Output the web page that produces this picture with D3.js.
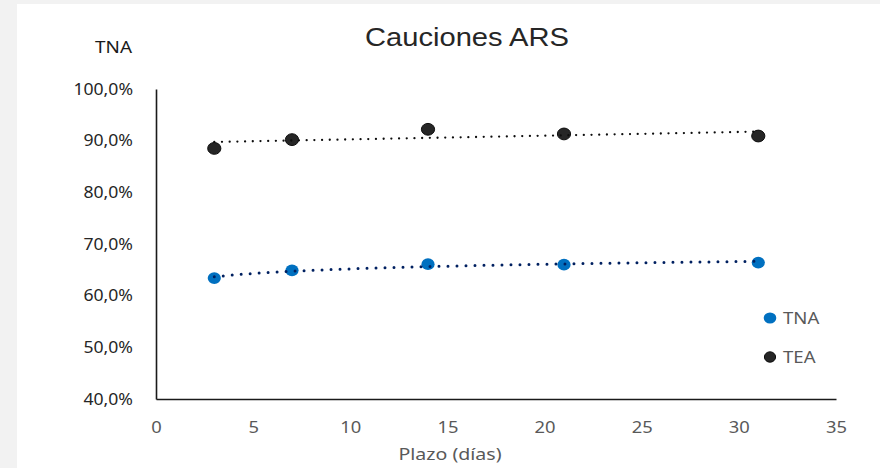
<!DOCTYPE html>
<html>
<head>
<meta charset="utf-8">
<script src="https://cdn.jsdelivr.net/npm/d3@7"></script>
<style>
  html, body { margin: 0; padding: 0; background: #f2f2f2; }
  svg { display: block; }
</style>
</head>
<body>
<div id="chart"></div>
<script>
// Chart data
const plazos = [3, 7, 14, 21, 31];
const tna = [63.4, 64.9, 66.1, 66.0, 66.4];
const tea = [88.5, 90.2, 92.2, 91.3, 90.9];
const seriesNames = ['TNA', 'TEA'];
const xTicks = [0, 5, 10, 15, 20, 25, 30, 35];
const yTicks = [40, 50, 60, 70, 80, 90, 100];

const width = 880;
const height = 468;
const font = "'Noto Sans', 'Open Sans', sans-serif";

// The original text looks a bit wider than normal, so stretch it a little
function stretch(sel, k) {
	sel.each(function () {
		const w = this.getComputedTextLength();
		d3.select(this)
			.attr('textLength', w * k)
			.attr('lengthAdjust', 'spacingAndGlyphs');
	});
}

// Least squares fit, optionally on ln(x) (logarithmic trendline)
function fit(xs, ys, useLog) {
	const tx = xs.map((v) => (useLog ? Math.log(v) : v));
	const mx = d3.mean(tx);
	const my = d3.mean(ys);
	let num = 0;
	let den = 0;
	for (let i = 0; i < tx.length; i += 1) {
		num += (tx[i] - mx) * (ys[i] - my);
		den += (tx[i] - mx) * (tx[i] - mx);
	}
	const b = num / den;
	const a = my - b * mx;
	return (v) => a + b * (useLog ? Math.log(v) : v);
}

const svg = d3.select('#chart')
	.append('svg')
	.attr('width', width)
	.attr('height', height);

// Background: light gray frame, white chart area
svg.append('rect')
	.attr('width', width)
	.attr('height', height)
	.attr('fill', '#f2f2f2');
svg.append('rect')
	.attr('x', 17)
	.attr('y', 4)
	.attr('width', width - 17)
	.attr('height', height - 4)
	.attr('fill', '#ffffff');

const x = d3.scaleLinear().domain([0, 35]).range([156, 836]);
const y = d3.scaleLinear().domain([40, 100]).range([399, 89]);

// Axes
const yAxis = svg.append('g')
	.attr('transform', `translate(${x(0)},0)`)
	.call(d3.axisLeft(y)
		.tickValues(yTicks)
		.tickSize(0)
		.tickSizeOuter(0)
		.tickPadding(23)
		.tickFormat((d) => `${d3.format('.1f')(d).replace('.', ',')}%`));
yAxis.select('.domain').attr('stroke', '#1a1a1a').attr('stroke-width', 1.6);
yAxis.selectAll('text')
	.attr('font-family', font)
	.attr('font-size', 16)
	.attr('fill', '#262626')
	.call(stretch, 1.1);

const xAxis = svg.append('g')
	.attr('transform', `translate(0,${y(40)})`)
	.call(d3.axisBottom(x)
		.tickValues(xTicks)
		.tickSize(0)
		.tickSizeOuter(0)
		.tickPadding(22));
xAxis.select('.domain').attr('stroke', '#1a1a1a').attr('stroke-width', 1.6);
xAxis.selectAll('text')
	.attr('font-family', font)
	.attr('font-size', 17)
	.attr('fill', '#595959')
	.call(stretch, 1.08);

// Titles
svg.append('text')
	.attr('x', 467)
	.attr('y', 46)
	.attr('text-anchor', 'middle')
	.attr('font-family', "'Liberation Sans', Arial, sans-serif")
	.attr('font-size', 26)
	.attr('fill', '#262626')
	.text('Cauciones ARS')
	.call(stretch, 1.12);

svg.append('text')
	.attr('x', 132)
	.attr('y', 53)
	.attr('text-anchor', 'end')
	.attr('font-family', font)
	.attr('font-size', 16)
	.attr('fill', '#1a1a1a')
	.text('TNA')
	.call(stretch, 1.18);

svg.append('text')
	.attr('x', 450)
	.attr('y', 460)
	.attr('text-anchor', 'middle')
	.attr('font-family', font)
	.attr('font-size', 17)
	.attr('fill', '#595959')
	.text('Plazo (días)')
	.call(stretch, 1.15);

// Series
const series = [
	{ name: seriesNames[0], values: tna, fill: '#0070C0', stroke: 'none', trend: '#002060', logFit: true, dotW: 3, dotGap: 9 },
	{ name: seriesNames[1], values: tea, fill: '#262626', stroke: '#0d0d0d', trend: '#0d0d0d', logFit: false, dotW: 2.3, dotGap: 7.7 },
];

series.forEach((s) => {
	svg.append('g')
		.selectAll('ellipse')
		.data(plazos.map((p, i) => [p, s.values[i]]))
		.join('ellipse')
		.attr('cx', (d) => x(d[0]))
		.attr('cy', (d) => y(d[1]))
		.attr('rx', 6.6)
		.attr('ry', 5.9)
		.attr('fill', s.fill)
		.attr('stroke', s.stroke)
		.attr('stroke-width', 1);
});

// Dotted trendlines, drawn over the markers
const line = d3.line()
	.x((d) => x(d[0]))
	.y((d) => y(d[1]));

series.forEach((s) => {
	const f = fit(plazos, s.values, s.logFit);
	const pts = d3.range(plazos[0], d3.max(plazos) + 0.001, 0.25).map((v) => [v, f(v)]);
	svg.append('path')
		.attr('d', line(pts))
		.attr('fill', 'none')
		.attr('stroke', s.trend)
		.attr('stroke-width', s.dotW)
		.attr('stroke-linecap', 'round')
		.attr('stroke-dasharray', `0 ${s.dotGap}`);
});

// Legend
const legend = svg.append('g')
	.selectAll('g')
	.data(series)
	.join('g')
	.attr('transform', (d, i) => `translate(770,${318 + i * 39})`);

legend.append('ellipse')
	.attr('rx', (d, i) => (i === 0 ? 6.3 : 5.6))
	.attr('ry', (d, i) => (i === 0 ? 5.6 : 5.2))
	.attr('fill', (d) => d.fill)
	.attr('stroke', (d) => d.stroke)
	.attr('stroke-width', 1);

legend.append('text')
	.attr('x', 13)
	.attr('y', 5.5)
	.attr('font-family', font)
	.attr('font-size', 16)
	.attr('fill', '#595959')
	.text((d) => d.name)
	.call(stretch, 1.16);
</script>
</body>
</html>
